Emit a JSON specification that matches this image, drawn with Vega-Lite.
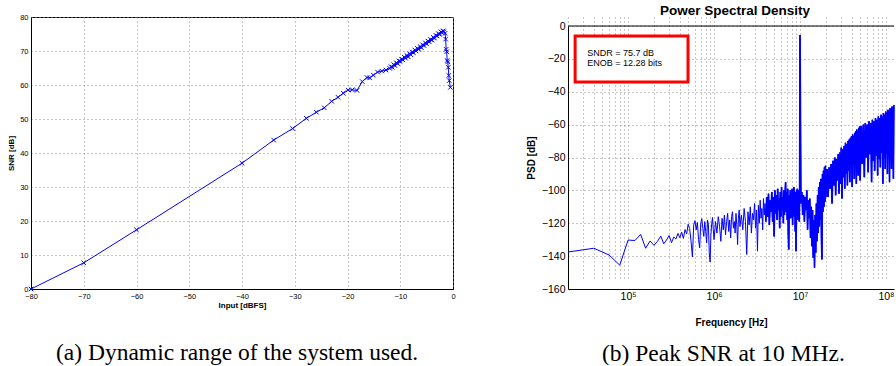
{
  "$schema": "https://vega.github.io/schema/vega-lite/v6.json",
  "autosize": {"type": "pad"},
  "padding": {"left": 7, "top": 3, "right": 1, "bottom": 0},
  "background": "white",
  "bounds": "flush",
  "spacing": 115,
  "config": {
    "font": "Liberation Sans",
    "axis": {
      "domainColor": "black",
      "domainWidth": 1,
      "labelColor": "black",
      "titleColor": "black",
      "titleFontWeight": "bold",
      "gridColor": "#8c8c8c",
      "gridDash": [1, 3],
      "gridWidth": 1,
      "gridOpacity": 1,
      "ticks": false,
      "labelFlush": false,
      "labelOverlap": false,
      "labelFont": "Liberation Sans",
      "titleFont": "Liberation Sans"
    },
    "title": {"color": "black"}
  },
  "datasets": {
    "one": [{}],
    "snr": [
      {"input": -80, "snr": 0},
      {"input": -70, "snr": 7.7},
      {"input": -60, "snr": 17.4},
      {"input": -40, "snr": 37.0},
      {"input": -34, "snr": 43.8},
      {"input": -30.4, "snr": 47.2},
      {"input": -27.8, "snr": 50.2},
      {"input": -25.9, "snr": 52.0},
      {"input": -24.4, "snr": 53.3},
      {"input": -23.0, "snr": 55.2},
      {"input": -21.8, "snr": 56.4},
      {"input": -20.8, "snr": 57.6},
      {"input": -19.9, "snr": 58.5},
      {"input": -19.1, "snr": 58.6},
      {"input": -18.2, "snr": 58.4},
      {"input": -17.2, "snr": 61.0},
      {"input": -16.3, "snr": 62.2},
      {"input": -15.8, "snr": 62.1},
      {"input": -15.1, "snr": 62.9},
      {"input": -14.3, "snr": 63.8},
      {"input": -13.5, "snr": 64.1},
      {"input": -12.7, "snr": 64.4},
      {"input": -12.0, "snr": 64.9},
      {"input": -11.75, "snr": 65.4},
      {"input": -11.5, "snr": 65.2},
      {"input": -11.25, "snr": 66.0},
      {"input": -11.0, "snr": 65.7},
      {"input": -10.75, "snr": 66.5},
      {"input": -10.5, "snr": 66.3},
      {"input": -10.25, "snr": 67.1},
      {"input": -10.0, "snr": 66.9},
      {"input": -9.75, "snr": 67.6},
      {"input": -9.5, "snr": 67.4},
      {"input": -9.25, "snr": 68.2},
      {"input": -9.0, "snr": 67.9},
      {"input": -8.75, "snr": 68.7},
      {"input": -8.5, "snr": 68.3},
      {"input": -8.25, "snr": 69.2},
      {"input": -8.0, "snr": 68.9},
      {"input": -7.75, "snr": 69.7},
      {"input": -7.5, "snr": 69.5},
      {"input": -7.25, "snr": 70.3},
      {"input": -7.0, "snr": 70.0},
      {"input": -6.75, "snr": 70.8},
      {"input": -6.5, "snr": 70.5},
      {"input": -6.25, "snr": 71.3},
      {"input": -6.0, "snr": 71.0},
      {"input": -5.75, "snr": 71.8},
      {"input": -5.5, "snr": 71.6},
      {"input": -5.25, "snr": 72.4},
      {"input": -5.0, "snr": 72.1},
      {"input": -4.75, "snr": 72.9},
      {"input": -4.5, "snr": 72.7},
      {"input": -4.25, "snr": 73.4},
      {"input": -4.0, "snr": 73.2},
      {"input": -3.75, "snr": 74.0},
      {"input": -3.5, "snr": 73.8},
      {"input": -3.25, "snr": 74.6},
      {"input": -3.0, "snr": 74.4},
      {"input": -2.75, "snr": 75.1},
      {"input": -2.5, "snr": 74.9},
      {"input": -2.25, "snr": 75.6},
      {"input": -2.1, "snr": 75.4},
      {"input": -1.9, "snr": 75.9},
      {"input": -1.7, "snr": 75.7},
      {"input": -1.5, "snr": 75.2},
      {"input": -1.4, "snr": 73.5},
      {"input": -1.3, "snr": 70.5},
      {"input": -1.2, "snr": 69.8},
      {"input": -1.1, "snr": 67.2},
      {"input": -1.0, "snr": 66.8},
      {"input": -0.9, "snr": 65.2},
      {"input": -0.8, "snr": 62.8},
      {"input": -0.7, "snr": 61.3},
      {"input": -0.5, "snr": 59.3}
    ],
    "psd": [
      {"f": 20000, "p": -137.5}, {"f": 40000, "p": -135.2}, {"f": 60000, "p": -139.3}, {"f": 80000, "p": -145.5},
      {"f": 100000, "p": -130.2}, {"f": 120000, "p": -130.5}, {"f": 140000, "p": -126.8}, {"f": 160000, "p": -135.2},
      {"f": 180000, "p": -130.8}, {"f": 200000, "p": -133.4}, {"f": 220000, "p": -131}, {"f": 240000, "p": -127.8},
      {"f": 260000, "p": -132.5}, {"f": 280000, "p": -130.2}, {"f": 300000, "p": -127.5}, {"f": 320000, "p": -131.8},
      {"f": 340000, "p": -128.4}, {"f": 360000, "p": -129.6}, {"f": 380000, "p": -126.2}, {"f": 400000, "p": -128.8},
      {"f": 420000, "p": -125.4}, {"f": 440000, "p": -129.2}, {"f": 460000, "p": -123.8}, {"f": 480000, "p": -126.5},
      {"f": 500000, "p": -120.6}, {"f": 520000, "p": -123.2}, {"f": 540000, "p": -131}, {"f": 560000, "p": -140.5},
      {"f": 580000, "p": -121}, {"f": 600000, "p": -118.4}, {"f": 620000, "p": -124}, {"f": 640000, "p": -119.5},
      {"f": 660000, "p": -129.8}, {"f": 680000, "p": -135}, {"f": 700000, "p": -120.2}, {"f": 720000, "p": -117.2},
      {"f": 740000, "p": -123}, {"f": 760000, "p": -128}, {"f": 780000, "p": -119}, {"f": 800000, "p": -125},
      {"f": 820000, "p": -132}, {"f": 840000, "p": -118}, {"f": 860000, "p": -121}, {"f": 880000, "p": -138},
      {"f": 900000, "p": -143.6}, {"f": 920000, "p": -127}, {"f": 940000, "p": -120}, {"f": 960000, "p": -116.5},
      {"f": 980000, "p": -124}, {"f": 1000000, "p": -130},
      {"f": 1040000, "p": -119}, {"f": 1080000, "p": -126}, {"f": 1120000, "p": -116}, {"f": 1160000, "p": -122},
      {"f": 1200000, "p": -131}, {"f": 1240000, "p": -117}, {"f": 1280000, "p": -124}, {"f": 1320000, "p": -115},
      {"f": 1360000, "p": -127}, {"f": 1400000, "p": -119}, {"f": 1440000, "p": -114}, {"f": 1480000, "p": -125},
      {"f": 1520000, "p": -118}, {"f": 1560000, "p": -129}, {"f": 1600000, "p": -116}, {"f": 1640000, "p": -113},
      {"f": 1680000, "p": -123}, {"f": 1720000, "p": -119}, {"f": 1760000, "p": -126}, {"f": 1800000, "p": -114},
      {"f": 1840000, "p": -121}, {"f": 1880000, "p": -133}, {"f": 1920000, "p": -117}, {"f": 1960000, "p": -112},
      {"f": 2000000, "p": -122},
      {"f": 2080000, "p": -115}, {"f": 2160000, "p": -124}, {"f": 2240000, "p": -111}, {"f": 2320000, "p": -119},
      {"f": 2400000, "p": -139}, {"f": 2480000, "p": -113}, {"f": 2560000, "p": -121}, {"f": 2640000, "p": -110},
      {"f": 2720000, "p": -126}, {"f": 2800000, "p": -114}, {"f": 2880000, "p": -118}, {"f": 2960000, "p": -108},
      {"f": 3040000, "p": -123}, {"f": 3120000, "p": -112}, {"f": 3200000, "p": -137}, {"f": 3280000, "p": -109},
      {"f": 3360000, "p": -120}, {"f": 3440000, "p": -106}, {"f": 3520000, "p": -117}, {"f": 3600000, "p": -111},
      {"f": 3680000, "p": -124}, {"f": 3760000, "p": -105}, {"f": 3840000, "p": -115}, {"f": 3920000, "p": -108},
      {"f": 4000000, "p": -119},
      {"f": 4100000, "p": -104}, {"f": 4200000, "p": -116}, {"f": 4300000, "p": -102}, {"f": 4400000, "p": -121},
      {"f": 4500000, "p": -106}, {"f": 4600000, "p": -113}, {"f": 4700000, "p": -101}, {"f": 4800000, "p": -119},
      {"f": 4900000, "p": -104}, {"f": 5000000, "p": -128}, {"f": 5100000, "p": -100}, {"f": 5200000, "p": -114},
      {"f": 5300000, "p": -103}, {"f": 5400000, "p": -118}, {"f": 5500000, "p": -99}, {"f": 5600000, "p": -112},
      {"f": 5700000, "p": -105}, {"f": 5800000, "p": -123}, {"f": 5900000, "p": -101}, {"f": 6000000, "p": -116},
      {"f": 6100000, "p": -98}, {"f": 6200000, "p": -111}, {"f": 6300000, "p": -104}, {"f": 6400000, "p": -120},
      {"f": 6500000, "p": -100}, {"f": 6600000, "p": -115}, {"f": 6700000, "p": -102}, {"f": 6800000, "p": -95},
      {"f": 6900000, "p": -113}, {"f": 7000000, "p": -101}, {"f": 7100000, "p": -118}, {"f": 7200000, "p": -99},
      {"f": 7300000, "p": -126}, {"f": 7400000, "p": -136}, {"f": 7500000, "p": -103}, {"f": 7600000, "p": -114},
      {"f": 7700000, "p": -100}, {"f": 7800000, "p": -117}, {"f": 7900000, "p": -102}, {"f": 8000000, "p": -110},
      {"f": 8100000, "p": -99}, {"f": 8200000, "p": -121}, {"f": 8300000, "p": -104}, {"f": 8400000, "p": -113},
      {"f": 8500000, "p": -98}, {"f": 8600000, "p": -116}, {"f": 8700000, "p": -101}, {"f": 8800000, "p": -125},
      {"f": 8900000, "p": -103}, {"f": 9000000, "p": -137}, {"f": 9100000, "p": -100}, {"f": 9200000, "p": -112},
      {"f": 9300000, "p": -99}, {"f": 9400000, "p": -118}, {"f": 9500000, "p": -102}, {"f": 9600000, "p": -114},
      {"f": 9700000, "p": -100}, {"f": 9800000, "p": -119}, {"f": 9900000, "p": -101}, {"f": 10000000, "p": -5.5},
      {"f": 10250000, "p": -108}, {"f": 10500000, "p": -101}, {"f": 10750000, "p": -115}, {"f": 11000000, "p": -103},
      {"f": 11250000, "p": -119}, {"f": 11500000, "p": -104}, {"f": 11750000, "p": -112}, {"f": 12000000, "p": -100},
      {"f": 12250000, "p": -124}, {"f": 12500000, "p": -106}, {"f": 12750000, "p": -117}, {"f": 13000000, "p": -105},
      {"f": 13250000, "p": -129}, {"f": 13500000, "p": -110}, {"f": 13750000, "p": -134}, {"f": 14000000, "p": -112},
      {"f": 14250000, "p": -141}, {"f": 14500000, "p": -118}, {"f": 14750000, "p": -147}, {"f": 15000000, "p": -115},
      {"f": 15250000, "p": -138}, {"f": 15500000, "p": -108}, {"f": 15750000, "p": -131}, {"f": 16000000, "p": -103},
      {"f": 16250000, "p": -126}, {"f": 16500000, "p": -98}, {"f": 16750000, "p": -122}, {"f": 17000000, "p": -95},
      {"f": 17250000, "p": -118}, {"f": 17500000, "p": -93}, {"f": 17750000, "p": -129}, {"f": 18000000, "p": -142},
      {"f": 18250000, "p": -90}, {"f": 18500000, "p": -113}, {"f": 18750000, "p": -88}, {"f": 19000000, "p": -110},
      {"f": 19250000, "p": -86}, {"f": 19500000, "p": -107}, {"f": 19750000, "p": -85}, {"f": 20000000, "p": -104},
      {"f": 20600000, "p": -87}, {"f": 21200000, "p": -104}, {"f": 21800000, "p": -86}, {"f": 22400000, "p": -99},
      {"f": 23000000, "p": -84}, {"f": 23600000, "p": -108}, {"f": 24200000, "p": -82}, {"f": 24800000, "p": -97},
      {"f": 25400000, "p": -80}, {"f": 26000000, "p": -103}, {"f": 26600000, "p": -81}, {"f": 27200000, "p": -94},
      {"f": 27800000, "p": -78}, {"f": 28400000, "p": -102}, {"f": 29000000, "p": -77}, {"f": 29600000, "p": -96},
      {"f": 30200000, "p": -74}, {"f": 30800000, "p": -105}, {"f": 31400000, "p": -75}, {"f": 32000000, "p": -92},
      {"f": 32600000, "p": -73}, {"f": 33200000, "p": -99}, {"f": 33800000, "p": -71}, {"f": 34400000, "p": -90},
      {"f": 35000000, "p": -72}, {"f": 35600000, "p": -97}, {"f": 36200000, "p": -70}, {"f": 36800000, "p": -88},
      {"f": 37400000, "p": -69}, {"f": 38000000, "p": -95}, {"f": 38600000, "p": -68}, {"f": 39200000, "p": -86},
      {"f": 39800000, "p": -67}, {"f": 40400000, "p": -98}, {"f": 41000000, "p": -66}, {"f": 41600000, "p": -84},
      {"f": 42200000, "p": -67}, {"f": 42800000, "p": -93}, {"f": 43400000, "p": -65}, {"f": 44000000, "p": -83},
      {"f": 44600000, "p": -64}, {"f": 45200000, "p": -96}, {"f": 45800000, "p": -63}, {"f": 46400000, "p": -85},
      {"f": 47000000, "p": -64}, {"f": 47600000, "p": -91}, {"f": 48200000, "p": -62}, {"f": 48800000, "p": -81},
      {"f": 49400000, "p": -61}, {"f": 50000000, "p": -94},
      {"f": 51500000, "p": -61}, {"f": 53000000, "p": -84}, {"f": 54500000, "p": -60}, {"f": 56000000, "p": -92},
      {"f": 57500000, "p": -59}, {"f": 59000000, "p": -80}, {"f": 60500000, "p": -60}, {"f": 62000000, "p": -89},
      {"f": 63500000, "p": -58}, {"f": 65000000, "p": -78}, {"f": 66500000, "p": -59}, {"f": 68000000, "p": -95},
      {"f": 69500000, "p": -57}, {"f": 71000000, "p": -82}, {"f": 72500000, "p": -58}, {"f": 74000000, "p": -88},
      {"f": 75500000, "p": -56}, {"f": 77000000, "p": -79}, {"f": 78500000, "p": -57}, {"f": 80000000, "p": -91},
      {"f": 81500000, "p": -55}, {"f": 83000000, "p": -81}, {"f": 84500000, "p": -56}, {"f": 86000000, "p": -86},
      {"f": 87500000, "p": -54}, {"f": 89000000, "p": -77}, {"f": 90500000, "p": -55}, {"f": 92000000, "p": -96},
      {"f": 93500000, "p": -53}, {"f": 95000000, "p": -80}, {"f": 96500000, "p": -54}, {"f": 98000000, "p": -87},
      {"f": 99500000, "p": -52}, {"f": 101000000, "p": -78}, {"f": 102500000, "p": -53}, {"f": 104000000, "p": -90},
      {"f": 105500000, "p": -51}, {"f": 107000000, "p": -79}, {"f": 108500000, "p": -52}, {"f": 110000000, "p": -95},
      {"f": 111500000, "p": -50}, {"f": 113000000, "p": -82}, {"f": 114500000, "p": -51}, {"f": 116000000, "p": -87},
      {"f": 117500000, "p": -49}, {"f": 119000000, "p": -78}, {"f": 120500000, "p": -50}, {"f": 122000000, "p": -93},
      {"f": 123500000, "p": -48}
    ]
  },
  "hconcat": [
    {
      "width": 422,
      "height": 272,
      "view": {"stroke": "black", "strokeWidth": 1},
      "title": {
        "text": "(a) Dynamic range of the system used.",
        "orient": "bottom",
        "anchor": "start",
        "frame": "group",
        "dx": 25,
        "offset": 50,
        "baseline": "alphabetic",
        "font": "Liberation Serif",
        "fontSize": 23.5,
        "fontWeight": "normal",
        "color": "black"
      },
      "data": {"name": "snr"},
      "encoding": {
        "x": {
          "field": "input",
          "type": "quantitative",
          "title": "Input [dBFS]",
          "scale": {"domain": [-80, 0], "nice": false},
          "axis": {
            "values": [-80, -70, -60, -50, -40, -30, -20, -10, 0],
            "labelFontSize": 7.5,
            "labelPadding": 3,
            "titleFontSize": 8,
            "titlePadding": 2,
            "grid": true
          }
        },
        "y": {
          "field": "snr",
          "type": "quantitative",
          "title": "SNR [dB]",
          "scale": {"domain": [0, 80], "nice": false, "zero": false},
          "axis": {
            "values": [0, 10, 20, 30, 40, 50, 60, 70, 80],
            "labelFontSize": 7.5,
            "labelPadding": 3,
            "titleFontSize": 8,
            "titlePadding": 4,
            "grid": true
          }
        }
      },
      "layer": [
        {"mark": {"type": "line", "color": "#0000ff", "strokeWidth": 1}},
        {"mark": {"type": "point", "shape": "M-1,-1L1,1M-1,1L1,-1", "filled": false, "color": "#0000ff", "size": 20, "strokeWidth": 1, "opacity": 1}}
      ]
    },
    {
      "title": {
        "text": "(b) Peak SNR at 10 MHz.",
        "orient": "bottom",
        "anchor": "start",
        "frame": "group",
        "dx": 34,
        "offset": 33,
        "baseline": "alphabetic",
        "font": "Liberation Serif",
        "fontSize": 23.5,
        "fontWeight": "normal",
        "color": "black"
      },
      "vconcat": [
        {
          "width": 326,
          "height": 272,
          "view": {"stroke": null},
          "title": {
            "text": "Power Spectral Density",
            "anchor": "start",
            "frame": "group",
            "dx": 92,
            "offset": -11,
            "baseline": "alphabetic",
            "font": "Liberation Sans",
            "fontSize": 13.5,
            "fontWeight": "bold",
            "color": "black"
          },
          "layer": [
            {
              "data": {"name": "psd"},
              "mark": {"type": "line", "color": "#0000ff", "strokeWidth": 1},
              "encoding": {
                "x": {
                  "field": "f",
                  "type": "quantitative",
                  "title": "Frequency [Hz]",
                  "scale": {"type": "log", "domain": [20000, 124000000], "nice": false},
                  "axis": {
                    "values": [20000, 30000, 40000, 50000, 60000, 70000, 80000, 90000,
                               100000, 200000, 300000, 400000, 500000, 600000, 700000, 800000, 900000,
                               1000000, 2000000, 3000000, 4000000, 5000000, 6000000, 7000000, 8000000, 9000000,
                               10000000, 20000000, 30000000, 40000000, 50000000, 60000000, 70000000, 80000000, 90000000,
                               100000000],
                    "labelExpr": "datum.value == 100000 ? '10⁵' : datum.value == 1000000 ? '10⁶' : datum.value == 10000000 ? '10⁷' : datum.value == 100000000 ? '10⁸' : ''",
                    "labelFontSize": 10.5,
                    "labelPadding": 2,
                    "titleFontSize": 10,
                    "titlePadding": 16,
                    "grid": true
                  }
                },
                "y": {
                  "field": "p",
                  "type": "quantitative",
                  "title": "PSD [dB]",
                  "scale": {"domain": [-160, 0], "range": [272, 9], "nice": false, "zero": false},
                  "axis": {
                    "values": [-160, -140, -120, -100, -80, -60, -40, -20, 0],
                    "tickCount": 9,
                    "labelFontSize": 10.5,
                    "labelPadding": 3,
                    "titleFontSize": 10,
                    "titlePadding": 5,
                    "grid": true
                  }
                }
              }
            },
            {
              "data": {"name": "psd"},
              "transform": [{"filter": "datum.f >= 4000000"}],
              "mark": {"type": "line", "color": "#0000ff", "strokeWidth": 1.7},
              "encoding": {
                "x": {"field": "f", "type": "quantitative", "title": "Frequency [Hz]"},
                "y": {
                  "field": "p",
                  "type": "quantitative",
                  "title": "PSD [dB]",
                  "axis": {
                    "values": [-160, -140, -120, -100, -80, -60, -40, -20, 0],
                    "tickCount": 9,
                    "labelFontSize": 10.5,
                    "labelPadding": 3,
                    "titleFontSize": 10,
                    "titlePadding": 5,
                    "grid": true
                  }
                }
              }
            },
            {
              "data": {"name": "one"},
              "mark": {"type": "rule", "color": "black", "strokeWidth": 1},
              "encoding": {
                "y": {
                  "datum": 0,
                  "title": "PSD [dB]",
                  "axis": {
                    "values": [-160, -140, -120, -100, -80, -60, -40, -20, 0],
                    "tickCount": 9,
                    "labelFontSize": 10.5,
                    "labelPadding": 3,
                    "titleFontSize": 10,
                    "titlePadding": 5,
                    "grid": true
                  }
                }
              }
            },
            {
              "data": {"name": "one"},
              "mark": {"type": "rect", "fill": "white", "stroke": "#ff0000", "strokeWidth": 3},
              "encoding": {
                "x": {"datum": 24200, "title": "Frequency [Hz]"},
                "x2": {"datum": 498000},
                "y": {
                  "datum": -6.1,
                  "title": "PSD [dB]",
                  "axis": {
                    "values": [-160, -140, -120, -100, -80, -60, -40, -20, 0],
                    "tickCount": 9,
                    "labelFontSize": 10.5,
                    "labelPadding": 3,
                    "titleFontSize": 10,
                    "titlePadding": 5,
                    "grid": true
                  }
                },
                "y2": {"datum": -34.1}
              }
            },
            {
              "data": {"name": "one"},
              "mark": {"type": "text", "align": "left", "baseline": "middle", "font": "Liberation Sans", "fontSize": 9, "color": "black"},
              "encoding": {
                "x": {"datum": 33400, "title": "Frequency [Hz]"},
                "y": {
                  "datum": -16.4,
                  "title": "PSD [dB]",
                  "axis": {
                    "values": [-160, -140, -120, -100, -80, -60, -40, -20, 0],
                    "tickCount": 9,
                    "labelFontSize": 10.5,
                    "labelPadding": 3,
                    "titleFontSize": 10,
                    "titlePadding": 5,
                    "grid": true
                  }
                },
                "text": {"value": "SNDR = 75.7 dB"}
              }
            },
            {
              "data": {"name": "one"},
              "mark": {"type": "text", "align": "left", "baseline": "middle", "font": "Liberation Sans", "fontSize": 9, "color": "black"},
              "encoding": {
                "x": {"datum": 33400, "title": "Frequency [Hz]"},
                "y": {
                  "datum": -22.5,
                  "title": "PSD [dB]",
                  "axis": {
                    "values": [-160, -140, -120, -100, -80, -60, -40, -20, 0],
                    "tickCount": 9,
                    "labelFontSize": 10.5,
                    "labelPadding": 3,
                    "titleFontSize": 10,
                    "titlePadding": 5,
                    "grid": true
                  }
                },
                "text": {"value": "ENOB = 12.28 bits"}
              }
            }
          ]
        }
      ]
    }
  ]
}
